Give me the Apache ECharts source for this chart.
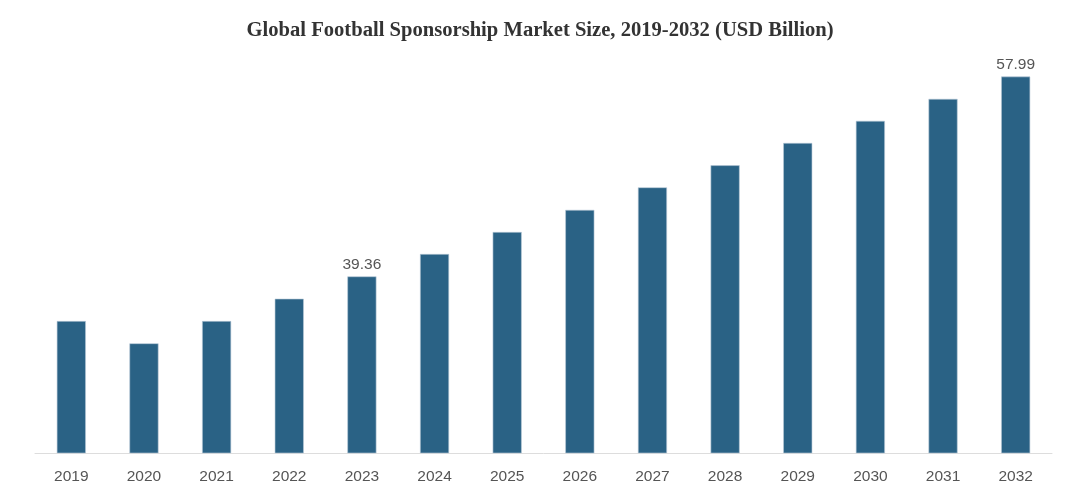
<!DOCTYPE html>
<html>
<head>
<meta charset="utf-8">
<script src="https://cdn.jsdelivr.net/npm/echarts@6/dist/echarts.min.js"></script>
<style>html,body{margin:0;padding:0;background:#fff;}#c{width:1080px;height:503px;}</style>
</head>
<body>
<div id="c"></div>
<script>
const categories = ['2019','2020','2021','2022','2023','2024','2025','2026','2027','2028','2029','2030','2031','2032'];
const values = [35.2, 33.12, 35.2, 37.28, 39.36, 41.45, 43.5, 45.56, 47.66, 49.72, 51.8, 53.86, 55.91, 57.99];
const labelledYears = ['2023', '2032'];

const chart = echarts.init(document.getElementById('c'));
chart.setOption({
  animation: false,
  backgroundColor: '#fff',
  title: {
    text: 'Global Football Sponsorship Market Size, 2019-2032 (USD Billion)',
    left: 'center',
    top: 15,
    textStyle: { fontFamily: 'Liberation Serif', fontWeight: 'bold', fontSize: 20.6, color: '#333' }
  },
  grid: { left: 35, right: 28, top: 55, bottom: 50 },
  xAxis: {
    type: 'category',
    data: categories,
    axisLine: { lineStyle: { color: '#dddddd', width: 1 } },
    axisTick: { show: false },
    axisLabel: { color: '#555', fontSize: 15.5, fontFamily: 'Liberation Sans', margin: 16 }
  },
  yAxis: {
    type: 'value',
    min: 22.9,
    max: 60,
    show: false,
    splitLine: { show: false }
  },
  series: [{
    type: 'bar',
    barWidth: '40%',
    data: values.map((v, i) => ({
      value: v,
      label: { show: labelledYears.includes(categories[i]) }
    })),
    itemStyle: { color: '#2a6285', borderColor: '#b8cad6', borderWidth: 0.6 },
    label: {
      position: 'top',
      distance: 4,
      color: '#555',
      fontSize: 15.5,
      fontFamily: 'Liberation Sans'
    }
  }]
});
</script>
</body>
</html>
